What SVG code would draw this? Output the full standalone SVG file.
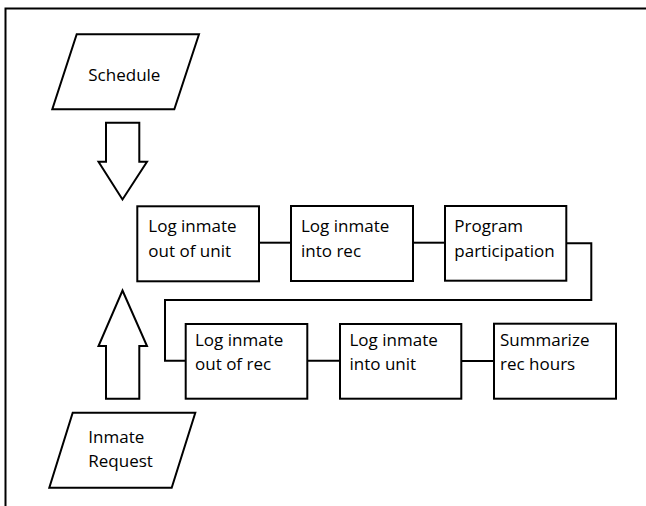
<svg xmlns="http://www.w3.org/2000/svg" width="646" height="506" viewBox="0 0 646 506">
<style>
.shape{fill:#fff;stroke:#000;stroke-width:2;stroke-linejoin:miter}
.conn{fill:none;stroke:#000;stroke-width:2}
text{font-family:"Open Sans","Noto Sans","DejaVu Sans",sans-serif;font-size:17px;fill:#000}
</style>
<rect width="646" height="506" fill="#fff"/>
<g id="frame"><polyline class="conn" stroke-width="2.5" points="5.5,506 5.5,8.5 646,8.5"/></g>
<g id="schedule">
<polygon class="shape" points="76.7,34.3 199,34.3 174.3,109.3 52.3,109.3"/>
<text x="88.3" y="80.7">Schedule</text>
</g>
<g id="inmate-request">
<polygon class="shape" points="72.7,412.7 195.3,412.7 171.7,487.7 49.3,487.7"/>
<text x="88.3" y="442.7">Inmate</text>
<text x="88.3" y="467">Request</text>
</g>
<g id="arrow-down"><polygon class="shape" points="106,122.7 139.3,122.7 139.3,161.7 147,161.7 122.5,199.5 98.5,161.7 106,161.7"/></g>
<g id="arrow-up"><polygon class="shape" points="122.5,290.5 147,346 139.3,346 139.3,398.7 106,398.7 106,346 98.5,346"/></g>
<g id="connectors">
<line class="conn" x1="259" y1="242.7" x2="291" y2="242.7"/>
<line class="conn" x1="413" y1="242.7" x2="445" y2="242.7"/>
<polyline class="conn" points="566.3,243.3 591.3,243.3 591.3,300 165,300 165,360.7 185.7,360.7"/>
<line class="conn" x1="307.3" y1="360.7" x2="340" y2="360.7"/>
<line class="conn" x1="461.3" y1="361" x2="494" y2="361"/>
</g>
<g id="log-out-unit">
<rect class="shape" x="137.3" y="206.3" width="121.7" height="75"/>
<text x="148.3" y="232.3">Log inmate</text>
<text x="148.3" y="256.7">out of unit</text>
</g>
<g id="log-into-rec">
<rect class="shape" x="291" y="206" width="122" height="75"/>
<text x="301" y="231.7">Log inmate</text>
<text x="301" y="256.7">into rec</text>
</g>
<g id="program-participation">
<rect class="shape" x="445" y="206" width="121.3" height="74.7"/>
<text x="454.3" y="231.7">Program</text>
<text x="454.3" y="256.7">participation</text>
</g>
<g id="log-out-rec">
<rect class="shape" x="185.7" y="324" width="121.6" height="74.7"/>
<text x="195" y="345.5">Log inmate</text>
<text x="195" y="370">out of rec</text>
</g>
<g id="log-into-unit">
<rect class="shape" x="340" y="324" width="121.3" height="74.7"/>
<text x="349.5" y="345.5">Log inmate</text>
<text x="349.5" y="370">into unit</text>
</g>
<g id="summarize">
<rect class="shape" x="494" y="323.7" width="122" height="75"/>
<text x="500" y="345.5">Summarize</text>
<text x="500" y="370">rec hours</text>
</g>
</svg>
